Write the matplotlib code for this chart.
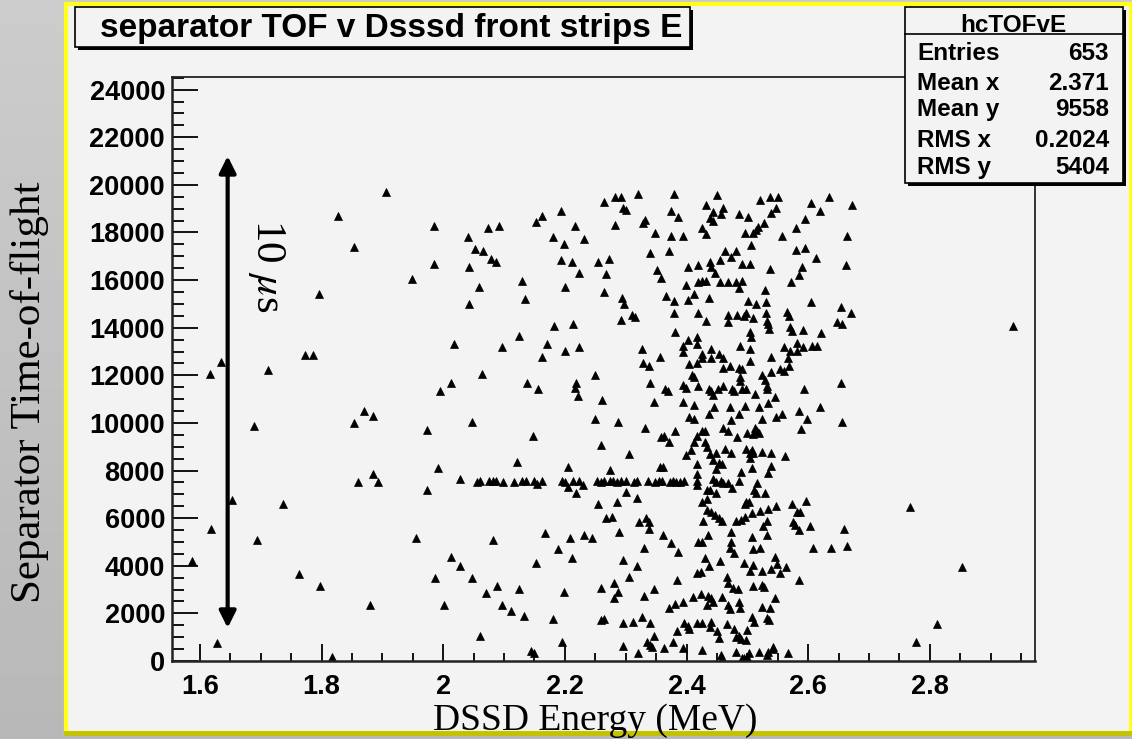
import numpy as np
import matplotlib
matplotlib.use("Agg")
import matplotlib.pyplot as plt
from matplotlib.patches import Rectangle
from matplotlib.ticker import MultipleLocator, FuncFormatter

# ---- data (energy in MeV, TOF in channels) ----
# isolated points at low and high energy
e_sparse = [1.587, 1.618, 1.617, 1.635, 1.628, 1.652, 1.689, 1.693, 1.712, 1.737,
            1.763, 1.773, 1.786, 1.796, 1.798, 1.817, 1.827, 1.853, 1.853, 1.860,
            1.870, 1.879, 1.885, 1.885, 1.893, 1.906, 1.949, 1.984, 1.984,
            2.767, 2.777, 2.812, 2.853, 2.937]
t_sparse = [4200, 5540, 12070, 12540, 740, 6760, 9870, 5090, 12210, 6590,
            3670, 12850, 12850, 15400, 3150, 180, 18700, 17400, 9980, 7520,
            10510, 2370, 10300, 7850, 7500, 19700, 16040, 18260, 16690,
            6450, 790, 1570, 3950, 14070]

# the horizontal band near 7500
e_band = [2.056, 2.061, 2.075, 2.081, 2.087, 2.099, 2.117, 2.129, 2.136, 2.150,
          2.154, 2.163, 2.195, 2.201, 2.213, 2.224, 2.253, 2.259, 2.265, 2.274,
          2.279, 2.285, 2.292, 2.300, 2.313, 2.318, 2.336, 2.348, 2.354, 2.359,
          2.373, 2.377, 2.383, 2.389, 2.396, 2.417, 2.205, 2.218, 2.229, 2.417]
t_band = [7500, 7560, 7560, 7560, 7560, 7500, 7500, 7560, 7560, 7560,
          7430, 7560, 7560, 7500, 7560, 7560, 7560, 7500, 7560, 7560,
          7560, 7500, 7560, 7560, 7500, 7560, 7560, 7500, 7560, 7560,
          7500, 7560, 7500, 7500, 7560, 7560, 7300, 7040, 7380, 7380]

# upper half (TOF above ~10700)
e_upper = [2.073, 2.091, 2.040, 2.053, 2.066, 2.078, 2.086, 2.042, 2.058, 2.042,
           2.129, 2.134, 2.152, 2.124, 2.096, 2.018, 2.063, 2.012, 1.994, 2.137, 2.156,
           2.163, 2.193, 2.216, 2.181, 2.198, 2.231, 2.193, 2.211, 2.224, 2.201,
           2.254, 2.272, 2.267, 2.264, 2.264, 2.282, 2.292, 2.320, 2.379, 2.295,
           2.300, 2.282, 2.329, 2.331, 2.348, 2.374, 2.386, 2.374, 2.394, 2.340,
           2.372, 2.351, 2.358, 2.402, 2.419, 2.399, 2.402, 2.412, 2.419, 2.366,
           2.379, 2.379, 2.419, 2.381, 2.294, 2.298, 2.311, 2.316, 2.292, 2.182,
           2.213, 2.170, 2.163, 2.201, 2.224, 2.249, 2.218, 2.216, 2.221, 2.261,
           2.326, 2.328, 2.338, 2.356, 2.340, 2.364, 2.369, 2.346, 2.394, 2.412,
           2.394, 2.394, 2.402, 2.417, 2.417, 2.404, 2.417, 2.409, 2.412, 2.394,
           2.399, 2.419,
           2.450, 2.432, 2.443, 2.438, 2.444, 2.460, 2.457, 2.426, 2.432, 2.486,
           2.501, 2.521, 2.537, 2.551, 2.547, 2.539, 2.527, 2.517, 2.514, 2.509,
           2.496, 2.506, 2.557, 2.580, 2.595, 2.604, 2.619, 2.634, 2.672, 2.664,
           2.662, 2.580, 2.595, 2.613, 2.590, 2.585, 2.572, 2.537, 2.463, 2.481,
           2.473, 2.455, 2.438, 2.440, 2.491, 2.504, 2.447, 2.426, 2.432, 2.455,
           2.468, 2.481, 2.491, 2.486, 2.529, 2.437, 2.501, 2.514, 2.530, 2.605,
           2.654, 2.670, 2.647, 2.655, 2.432, 2.468, 2.468, 2.483, 2.494, 2.497,
           2.509, 2.530, 2.566, 2.568, 2.532, 2.534, 2.536, 2.570, 2.573, 2.591,
           2.621, 2.504, 2.506, 2.488, 2.504, 2.440, 2.426, 2.426, 2.440, 2.453,
           2.460, 2.504, 2.539, 2.560, 2.570, 2.581, 2.581, 2.591, 2.606, 2.615,
           2.567, 2.569, 2.560, 2.554, 2.539, 2.460, 2.471, 2.486, 2.491, 2.488,
           2.524, 2.529, 2.532, 2.532, 2.488, 2.491, 2.497, 2.474, 2.478, 2.460,
           2.451, 2.440, 2.444, 2.437, 2.513, 2.545, 2.534, 2.593, 2.654]
t_upper = [18200, 18260, 17800, 17290, 17220, 16900, 16760, 16560, 15720, 14990,
           15970, 15190, 18450, 13640, 13180, 13310, 12070, 11680, 11350, 11680, 11420,
           18700, 18900, 18260, 17800, 17530, 17720, 16830, 16760, 16300, 15720,
           16760, 16880, 16240, 15510, 19290, 19490, 19490, 19630, 19630, 19030,
           18960, 18320, 18400, 18520, 17990, 18900, 18630, 17860, 17860, 17150,
           17220, 16440, 16100, 16560, 16630, 15780, 15160, 15400, 15900, 15320,
           15130, 14600, 14600, 13820, 15260, 14980, 14550, 14460, 14330, 14080,
           14140, 13300, 12780, 13030, 13180, 12000, 11680, 11480, 11140, 10960,
           13100, 12530, 12390, 12780, 11680, 11420, 11350, 10890, 10890, 10750,
           13240, 12980, 13500, 13630, 13300, 12460, 12530, 12000, 11930, 11610,
           11480, 11550,
           19560, 19170, 18850, 18620, 18490, 19030, 18760, 18190, 17920, 18770,
           18630, 19350, 19490, 19490, 19040, 18830, 18400, 18240, 18100, 17990,
           17990, 17460, 17850, 18190, 18580, 19220, 18900, 19490, 19170, 17850,
           16620, 17280, 17330, 16940, 16560, 16220, 15900, 16450, 17220, 17220,
           16950, 16830, 16760, 16560, 16690, 16690, 16310, 15970, 15970, 15900,
           15900, 15900, 15970, 15650, 15580, 15260, 15130, 15010, 15070, 15070,
           14880, 14600, 14220, 14150, 14270, 14550, 14220, 14550, 14480, 14630,
           14420, 14600, 14670, 14480, 14280, 14150, 13960, 14030, 13860, 13890,
           13760, 13830, 13620, 13240, 13100, 13100, 12890, 12710, 12710, 12890,
           12710, 12600, 12780, 13180, 13030, 13370, 13030, 13180, 13240, 13240,
           12710, 12390, 12190, 12250, 12130, 12320, 12390, 12320, 12250, 11940,
           12000, 11800, 11550, 11420, 11750, 11420, 11420, 11420, 11350, 11550,
           11420, 11330, 11170, 11420, 11230, 11100, 10840, 11420, 11680]

# lower half (TOF below ~10700, band excluded)
e_lower = [1.974, 2.048, 2.147, 1.992, 1.974, 2.027, 2.122, 1.956, 2.081, 2.012,
           2.027, 1.987, 2.048, 2.071, 2.088, 2.124, 2.152, 2.002, 2.096, 2.111,
           2.132, 2.061, 2.145, 2.149,
           2.249, 2.287, 2.331, 2.259, 2.305, 2.363, 2.358, 2.381, 2.372, 2.404,
           2.412, 2.412, 2.407, 2.399, 2.417, 2.417, 2.205, 2.274, 2.357, 2.362,
           2.300, 2.318, 2.255, 2.285, 2.267, 2.278, 2.322, 2.333, 2.339, 2.338,
           2.289, 2.168, 2.208, 2.231, 2.244, 2.188, 2.211, 2.295, 2.318, 2.330,
           2.361, 2.374, 2.386, 2.419, 2.305, 2.280, 2.287, 2.280, 2.259, 2.198,
           2.330, 2.346, 2.384, 2.372, 2.381, 2.395, 2.410, 2.180, 2.259, 2.264,
           2.295, 2.312, 2.326, 2.340, 2.346, 2.335, 2.340, 2.344, 2.396, 2.403,
           2.404, 2.384, 2.378, 2.395, 2.363, 2.320, 2.295, 2.196, 2.417, 2.417,
           2.417,
           2.445, 2.471, 2.496, 2.520, 2.619, 2.437, 2.486, 2.473, 2.524, 2.547,
           2.557, 2.585, 2.598, 2.588, 2.656, 2.426, 2.431, 2.460, 2.468, 2.483,
           2.499, 2.512, 2.516, 2.520, 2.509, 2.430, 2.433, 2.438, 2.449, 2.463,
           2.473, 2.497, 2.508, 2.504, 2.510, 2.504, 2.524, 2.539, 2.562, 2.444,
           2.453, 2.459, 2.449, 2.489, 2.507, 2.539, 2.534, 2.444, 2.449, 2.456,
           2.460, 2.468, 2.474, 2.486, 2.516, 2.433, 2.438, 2.449, 2.511, 2.514,
           2.529, 2.426, 2.433, 2.498, 2.503, 2.496, 2.521, 2.534, 2.547, 2.573,
           2.597, 2.581, 2.586, 2.433, 2.441, 2.447, 2.454, 2.459, 2.427, 2.482,
           2.490, 2.496, 2.507, 2.532, 2.525, 2.575, 2.578, 2.585, 2.603, 2.659,
           2.436, 2.426, 2.473, 2.473, 2.471, 2.478, 2.508, 2.532, 2.509, 2.521,
           2.608, 2.638, 2.664, 2.430, 2.437, 2.455, 2.424, 2.494, 2.509, 2.504,
           2.524, 2.545, 2.548, 2.539, 2.554, 2.563, 2.585, 2.466, 2.468, 2.476,
           2.484, 2.509, 2.524, 2.527, 2.424, 2.436, 2.441, 2.444, 2.434, 2.459,
           2.468, 2.471, 2.486, 2.488, 2.545, 2.524, 2.537, 2.507, 2.511, 2.532,
           2.535, 2.426, 2.440, 2.439, 2.450, 2.453, 2.466, 2.478, 2.481, 2.487,
           2.490, 2.497, 2.499, 2.426, 2.456, 2.458, 2.481, 2.491, 2.494, 2.499,
           2.503, 2.519, 2.532, 2.534, 2.543, 2.542, 2.567]
t_lower = [9710, 10050, 9460, 8090, 7170, 7630, 8350, 5170, 5100, 4380,
           3990, 3470, 3470, 2870, 3140, 3010, 4120, 2350, 2350, 2100,
           1900, 1060, 420, 320,
           10180, 10050, 9790, 9070, 8680, 9460, 9400, 9660, 9200, 10250,
           10180, 9200, 8870, 8650, 9460, 8290, 8150, 8040, 8150, 8150,
           7110, 6860, 6590, 6670, 5990, 6060, 5830, 6020, 5830, 5540,
           5430, 5360, 5150, 5290, 5150, 4700, 4310, 4250, 3990, 4760,
           5290, 4970, 4580, 5010, 3540, 3260, 2890, 2630, 3080, 2890,
           2740, 3020, 3400, 2240, 2410, 2490, 2680, 1780, 1710, 1780,
           1580, 1650, 1840, 1580, 1060, 810, 670, 600, 1580, 1460,
           1330, 1260, 800, 550, 530, 350, 620, 800, 3710, 7840,
           1580,
           10680, 10680, 10710, 10680, 10680, 10370, 10370, 10120, 10180, 10250,
           10370, 10510, 10180, 9730, 10050, 9660, 9660, 9790, 9660, 9400,
           9590, 9790, 9660, 9590, 9520, 9200, 8990, 8680, 8720, 8920,
           8720, 8920, 8850, 8720, 8720, 8530, 8790, 8720, 8610, 8440,
           8300, 8260, 8080, 7950, 8090, 8200, 7880, 7640, 7530, 7560,
           7460, 7460, 7250, 7560, 7490, 7180, 7180, 7040, 7180, 7040,
           7040, 6690, 6790, 6690, 6690, 6580, 6320, 6380, 6520, 6580,
           6720, 6270, 6270, 6330, 6250, 6130, 6020, 5880, 5880, 5880,
           5920, 6060, 6200, 5880, 5680, 5850, 5710, 5490, 5680, 5560,
           5290, 5010, 5430, 5010, 4760, 4520, 5220, 5290, 4700, 4760,
           4760, 4760, 4820, 4310, 3990, 4200, 3750, 4130, 4030, 3790,
           3790, 4380, 4060, 3860, 3680, 3930, 3410, 3540, 3260, 3080,
           3010, 3150, 3190, 3110, 2800, 2740, 2660, 2490, 2350, 2690,
           2350, 2180, 2490, 2240, 2630, 2280, 2240, 1860, 1630, 1820,
           1730, 1580, 1650, 1440, 1260, 980, 1570, 1330, 1010, 1040,
           920, 880, 1300, 460, 250, 110, 390, 140, 140, 170,
           320, 390, 250, 390, 600, 490, 340]

stat_labels = ["Entries", "Mean x", "Mean y", "RMS x", "RMS y"]
stat_values = ["653", "2.371", "9558", "0.2024", "5404"]

W, H = 1132, 739
fig = plt.figure(figsize=(W / 100, H / 100), dpi=100)
plt.rcParams['mathtext.fontset'] = 'stix'

# background layer, pixel coordinates
bg = fig.add_axes([0, 0, 1, 1], zorder=0)
bg.set_xlim(0, W)
bg.set_ylim(H, 0)
bg.axis('off')
shade = np.linspace(0.80, 0.72, 200)[:, None] * np.ones((1, 4))
bg.imshow(shade, cmap='gray', vmin=0, vmax=1, extent=(0, W, H, 0), aspect='auto')
bg.add_patch(Rectangle((66, 4), W - 67, 729, facecolor='#f3f3f3',
                       edgecolor='#ffff1a', lw=3))
bg.plot([66, W], [733, 733], color='#c2c200', lw=3.5)

# scatter plot
ax = fig.add_axes([172 / W, 1 - 661 / H, 863 / W, 584 / H], zorder=1)
ax.set_facecolor('#f3f3f3')
for e, t in [(e_sparse, t_sparse), (e_band, t_band),
             (e_upper, t_upper), (e_lower, t_lower)]:
    ax.plot(e, t, ls='none', marker='^', ms=6, color='black', mew=0.5)

ax.set_xlim(1.554, 2.973)
ax.set_ylim(0, 24530)
ax.xaxis.set_major_locator(MultipleLocator(0.2))
ax.xaxis.set_minor_locator(MultipleLocator(0.05))
ax.yaxis.set_major_locator(MultipleLocator(2000))
ax.yaxis.set_minor_locator(MultipleLocator(500))
ax.xaxis.set_major_formatter(FuncFormatter(lambda v, p: '%g' % round(v, 2)))
ax.yaxis.set_major_formatter(FuncFormatter(lambda v, p: '%d' % v))
for s in ax.spines.values():
    s.set_color('#222222')
    s.set_linewidth(1.3)
ax.spines['left'].set_linewidth(1.8)
ax.spines['bottom'].set_linewidth(1.8)
ax.tick_params(axis='y', which='major', direction='in', length=18.5, width=1.3, pad=5)
ax.tick_params(axis='y', which='minor', direction='in', length=8.6, width=1.3)
ax.tick_params(axis='x', which='major', direction='in', length=12, width=1.3, pad=9)
ax.tick_params(axis='x', which='minor', direction='in', length=5.8, width=1.3)
for lab in ax.get_xticklabels() + ax.get_yticklabels():
    lab.set_fontfamily('Liberation Sans')
    lab.set_fontweight('bold')
    lab.set_fontsize(19.5)

# 10 microsecond arrow
ax.annotate('', xy=(1.6455, 21210), xytext=(1.6455, 1390),
            arrowprops=dict(arrowstyle='<|-|>,head_length=0.5,head_width=0.25',
                            mutation_scale=20, lw=3, color='black',
                            shrinkA=0, shrinkB=0))

# overlay: title pave, stats box, axis titles (pixel coordinates)
ov = fig.add_axes([0, 0, 1, 1], zorder=2)
ov.set_xlim(0, W)
ov.set_ylim(H, 0)
ov.axis('off')
ov.patch.set_alpha(0)

ov.add_patch(Rectangle((77.5, 9.5), 615, 40, facecolor='black', lw=0))
ov.add_patch(Rectangle((75, 7), 615, 40, facecolor='#f3f3f3', edgecolor='black', lw=1.2))
ov.text(391, 37, 'separator TOF v Dsssd front strips E', ha='center', va='baseline',
        family='Liberation Sans', weight='bold', fontsize=24)

ov.add_patch(Rectangle((907.5, 9.5), 218, 176, facecolor='black', lw=0))
ov.add_patch(Rectangle((905, 7), 218, 176, facecolor='#f3f3f3', edgecolor='black', lw=1.2))
ov.plot([905, 1123], [34, 34], color='black', lw=1.2)
ov.text(1013, 31.5, 'hcTOFvE', ha='center', va='baseline',
        family='Liberation Sans', weight='bold', fontsize=17.5)
for lab, val, yb in zip(stat_labels, stat_values, [60, 90, 116, 147, 174]):
    ov.text(917, yb, lab, ha='left', va='baseline',
            family='Liberation Sans', weight='bold', fontsize=17.5)
    ov.text(1109, yb, val, ha='right', va='baseline',
            family='Liberation Sans', weight='bold', fontsize=17.5)

ov.text(266, 266, '10 $\\mu$s', rotation=-90, ha='center', va='center',
        family='Liberation Serif', fontsize=31)
ov.text(595, 730, 'DSSD Energy (MeV)', ha='center', va='baseline',
        family='Liberation Serif', fontsize=27)
ov.text(30, 392, 'Separator Time-of-flight', rotation=90, ha='center', va='center',
        family='Liberation Serif', fontsize=31)

fig.savefig('out.png', dpi=100)
